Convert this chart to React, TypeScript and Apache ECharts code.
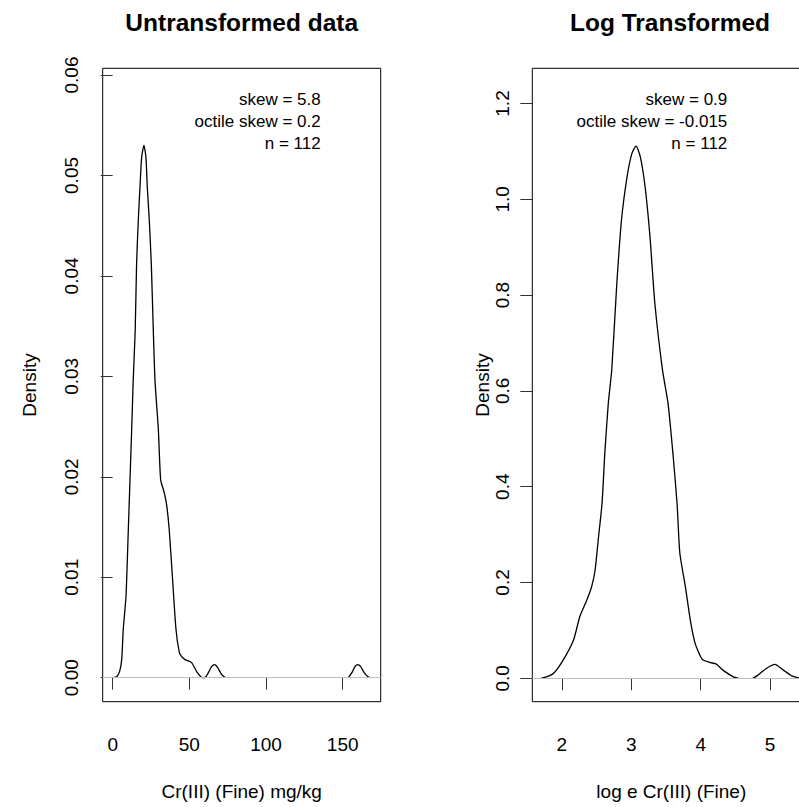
import React, { useEffect, useRef } from "react";
import * as echarts from "echarts";

// ---- data ----
const rawX: (number | null)[] = [
  0.4, 2.6, 4.5, 5.9, 6.9, 8.7, 10.2, 11.3, 12.4, 13.4, 14.7, 15.6, 16.7, 17.8, 18.9, 20.4,
  21.7, 22.6, 23.9, 25.2, 26.5, 27.6, 29.8, 31.3, 33.5, 35.2, 36.9, 39.1, 41.3, 43.5, 45.0,
  47.2, 51.5, 54.8, 57.5, 59.1, 60.8, 62.4, 64.5, 66.5, 68.5, 71.1, 73.5, null,
  153.7, 156.0, 158.0, 159.8, 161.8, 164.0, 166.5, 167.8,
];
const rawDensity: (number | null)[] = [
  0, 0.0001, 0.0006, 0.0018, 0.0048, 0.0081, 0.0147, 0.0197, 0.0247, 0.0296, 0.0346, 0.0412,
  0.0455, 0.0488, 0.0518, 0.053, 0.0518, 0.0488, 0.0455, 0.0412, 0.0346, 0.0296, 0.0247,
  0.0197, 0.0185, 0.0172, 0.0147, 0.0097, 0.0048, 0.0025, 0.0021, 0.0018, 0.0015, 0.0006,
  0.0001, 0, 0.0001, 0.0005, 0.0011, 0.0013, 0.001, 0.0003, 0, null,
  0, 0.0005, 0.0011, 0.0013, 0.0011, 0.0005, 0.0001, 0,
];
const logX: (number | null)[] = [
  1.7, 1.78, 1.88, 2.02, 2.17, 2.26, 2.36, 2.43, 2.48, 2.53, 2.58, 2.62, 2.67, 2.72, 2.79,
  2.86, 2.94, 3.01, 3.07, 3.13, 3.2, 3.27, 3.34, 3.45, 3.53, 3.6, 3.66, 3.7, 3.78, 3.85, 3.92,
  4.02, 4.13, 4.22, 4.32, 4.47, 4.55, null, 4.75, 4.81, 4.95, 5.07, 5.19, 5.31, 5.38, 5.45,
];
const logDensity: (number | null)[] = [
  0, 0.003, 0.01, 0.038, 0.08, 0.129, 0.163, 0.191, 0.226, 0.296, 0.365, 0.47, 0.574, 0.644,
  0.818, 0.957, 1.047, 1.096, 1.111, 1.089, 1.026, 0.922, 0.783, 0.644, 0.574, 0.47, 0.365,
  0.261, 0.191, 0.122, 0.073, 0.04, 0.033, 0.03, 0.017, 0.003, 0, null, 0, 0.005, 0.021, 0.029,
  0.017, 0.005, 0.002, 0,
];

const rawXTicks = [0, 50, 100, 150];
const rawYTicks = [0, 0.01, 0.02, 0.03, 0.04, 0.05, 0.06];
const logXTicks = [2, 3, 4, 5];
const logYTicks = [0, 0.2, 0.4, 0.6, 0.8, 1.0, 1.2];

const titles = ["Untransformed data", "Log Transformed"];
const xNames = ["Cr(III) (Fine) mg/kg", "log e Cr(III) (Fine)"];
const stats1 = ["skew = 5.8", "octile skew = 0.2", "n = 112"];
const stats2 = ["skew = 0.9", "octile skew = -0.015", "n = 112"];

const FONT = "'Liberation Sans', Arial, Helvetica, sans-serif";

function pairs(xs: (number | null)[], ys: (number | null)[]) {
  return xs.map((x, i) => (x === null || ys[i] === null ? ["-", "-"] : [x, ys[i]]));
}

export default function App() {
  const ref = useRef<HTMLDivElement>(null);
  useEffect(() => {
    if (!ref.current) return;
    const chart = echarts.init(ref.current, null, { renderer: "svg" });

    const gridTop = 68.3;
    const gridH = 633.4;
    const gridW = 278;

    const xAxisCommon = (gi: number, min: number, max: number, ticks: number[], name: string, fmt: (v: number) => string) => ({
      type: "value",
      gridIndex: gi,
      min,
      max,
      name,
      nameLocation: "middle",
      nameGap: 80,
      nameTextStyle: { fontFamily: FONT, fontSize: 19, color: "#000" },
      axisLine: { show: false },
      splitLine: { show: false },
      axisTick: { show: true, inside: false, length: 12, customValues: ticks, lineStyle: { color: "#333", width: 1 } },
      axisLabel: {
        show: true,
        customValues: ticks,
        margin: 33,
        fontFamily: FONT,
        fontSize: 19,
        color: "#000",
        formatter: fmt,
      },
    });

    const yAxisCommon = (gi: number, min: number, max: number, ticks: number[], gap: number, labMargin: number, fmt: (v: number) => string) => ({
      type: "value",
      gridIndex: gi,
      min,
      max,
      name: "Density",
      nameLocation: "middle",
      nameGap: gap,
      nameTextStyle: { fontFamily: FONT, fontSize: 19, color: "#000" },
      axisLine: { show: false },
      splitLine: { show: false },
      axisTick: { show: true, inside: false, length: 12, customValues: ticks, lineStyle: { color: "#333", width: 1 } },
      axisLabel: {
        show: true,
        customValues: ticks,
        rotate: 90,
        margin: labMargin,
        fontFamily: FONT,
        fontSize: 19,
        color: "#000",
        formatter: fmt,
      },
    });

    const zeroLine = {
      silent: true,
      symbol: "none",
      label: { show: false },
      lineStyle: { color: "#bebebe", width: 1, type: "solid" },
      data: [{ yAxis: 0 }],
    };

    const statText = (lines: string[], x: number) =>
      lines.map((t, i) => ({
        type: "text",
        x,
        y: 99.3 + i * 22.3,
        style: {
          text: t,
          fontFamily: FONT,
          fontSize: 17,
          fill: "#000",
          align: "right",
          verticalAlign: "middle",
        },
      }));

    chart.setOption({
      animation: false,
      backgroundColor: "#fff",
      grid: [
        { left: 102.7, top: gridTop, width: gridW, height: gridH, show: true, borderColor: "#000", borderWidth: 1, backgroundColor: "transparent" },
        { left: 532.3, top: gridTop, width: gridW, height: gridH, show: true, borderColor: "#000", borderWidth: 1, backgroundColor: "transparent" },
      ],
      xAxis: [
        xAxisCommon(0, -6.5, 174.8, rawXTicks, xNames[0], (v: number) => String(v)),
        xAxisCommon(1, 1.576, 5.578, logXTicks, xNames[1], (v: number) => String(v)),
      ],
      yAxis: [
        yAxisCommon(0, -0.00239, 0.06067, rawYTicks, 64, 22, (v: number) => v.toFixed(2)),
        yAxisCommon(1, -0.0489, 1.2735, logYTicks, 38, 20, (v: number) => v.toFixed(1)),
      ],
      series: [
        {
          type: "line",
          xAxisIndex: 0,
          yAxisIndex: 0,
          data: pairs(rawX, rawDensity),
          showSymbol: false,
          smooth: 0.2,
          connectNulls: false,
          lineStyle: { color: "#000", width: 1.3 },
          markLine: zeroLine,
        },
        {
          type: "line",
          xAxisIndex: 1,
          yAxisIndex: 1,
          data: pairs(logX, logDensity),
          showSymbol: false,
          smooth: 0.2,
          connectNulls: false,
          lineStyle: { color: "#000", width: 1.3 },
          markLine: zeroLine,
        },
      ],
      graphic: [
        {
          type: "text",
          x: 241.7,
          y: 22.3,
          style: { text: titles[0], fontFamily: FONT, fontSize: 24.5, fontWeight: "bold", fill: "#000", align: "center", verticalAlign: "middle" },
        },
        {
          type: "text",
          x: 670,
          y: 22.3,
          style: { text: titles[1], fontFamily: FONT, fontSize: 24.5, fontWeight: "bold", fill: "#000", align: "center", verticalAlign: "middle" },
        },
        ...statText(stats1, 320.7),
        ...statText(stats2, 727.3),
      ],
    });
    return () => chart.dispose();
  }, []);
  return (
    <div style={{ position: "fixed", left: 0, top: 0, width: 799, height: 807, overflow: "hidden", background: "#fff" }}>
      <div ref={ref} style={{ width: 830, height: 807 }} />
    </div>
  );
}
